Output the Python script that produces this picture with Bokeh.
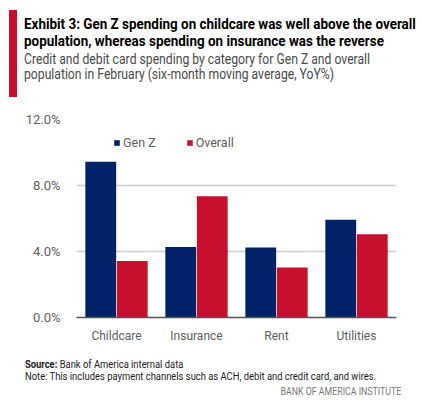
from bokeh.plotting import figure
from bokeh.models import ColumnDataSource, FactorRange, Legend, LegendItem, Range1d, Div
from bokeh.layouts import column
from bokeh.transform import dodge
from bokeh.embed import file_html
from bokeh.resources import INLINE

categories = ["Childcare", "Insurance", "Rent", "Utilities"]
gen_z = [9.44, 4.28, 4.24, 5.93]
overall = [3.43, 7.35, 3.03, 5.05]
y_ticks = [0, 4, 8, 12]
y_tick_labels = {0: "0.0%", 4: "4.0%", 8: "8.0%", 12: "12.0%"}

title_lines = ["Exhibit 3: Gen Z spending on childcare was well above the overall",
               "population, whereas spending on insurance was the reverse"]
subtitle_lines = ["Credit and debit card spending by category for Gen Z and overall",
                  "population in February (six-month moving average, YoY%)"]
source_text = "Bank of America internal data"
note_text = "Note: This includes payment channels such as ACH, debit and credit card, and wires."
brand_text = "BANK OF AMERICA INSTITUTE"

NAVY = "#012169"
RED = "#C8102E"
GREY = "#5f5f5f"
FONT = "Roboto"

W = 414
HEADER_H = 104
FIG_H = 246
FOOTER_H = 50


def line(text, left, baseline, size, color, weight="normal", scale=0.8, right=None):
    top = baseline - 0.84 * size
    if right is None:
        pos = f"left:{left}px;"
        origin = "left"
    else:
        pos = f"right:{W - right}px;"
        origin = "right"
    return (f'<div style="position:absolute;{pos}top:{top:.1f}px;font-family:Roboto,sans-serif;'
            f'font-size:{size}px;line-height:1;font-weight:{weight};color:{color};'
            f'white-space:nowrap;transform:scaleX({scale});transform-origin:{origin};">{text}</div>')


header_html = (f'<div style="position:relative;width:{W}px;height:{HEADER_H}px;">'
               f'<div style="position:absolute;left:9px;top:10px;width:8px;height:87px;background:{RED};"></div>'
               + line(title_lines[0], 24, 29, 14, "#000000", "bold", 0.96)
               + line(title_lines[1], 24, 46, 14, "#000000", "bold", 0.96)
               + line(subtitle_lines[0], 24, 63.5, 14, "#4a4a4a", "normal", 0.87)
               + line(subtitle_lines[1], 24, 78.5, 14, "#4a4a4a", "normal", 0.87)
               + '</div>')
header = Div(text=header_html, width=W, height=HEADER_H, margin=0)

footer_html = (f'<div style="position:relative;width:{W}px;height:{FOOTER_H}px;">'
               + line(f'<b>Source:</b> {source_text}', 25, 18, 10, "#222222", "normal", 0.94)
               + line(note_text, 25, 30.5, 10, "#222222", "normal", 0.94)
               + line(brand_text, 0, 45.5, 10, "#777777", "normal", 0.88, right=401)
               + '</div>')
footer = Div(text=footer_html, width=W, height=FOOTER_H, margin=0)

src = ColumnDataSource(dict(cat=categories, genz=gen_z, overall=overall))

p = figure(width=W, height=FIG_H, x_range=FactorRange(*categories), y_range=Range1d(0, 12),
           output_backend="svg", toolbar_location=None, margin=0,
           min_border_left=76, min_border_right=18, min_border_top=15, min_border_bottom=33)
p.outline_line_color = None
p.background_fill_color = "white"

r1 = p.vbar(x=dodge("cat", -0.197, range=p.x_range), top="genz", width=0.385,
            source=src, color=NAVY, line_color=None)
r2 = p.vbar(x=dodge("cat", 0.197, range=p.x_range), top="overall", width=0.385,
            source=src, color=RED, line_color=None)

p.yaxis.ticker = y_ticks
p.yaxis.major_label_overrides = y_tick_labels
p.yaxis.axis_line_color = None
p.yaxis.major_tick_line_color = None
p.yaxis.minor_tick_line_color = None
p.yaxis.major_label_standoff = 10
p.yaxis.major_label_text_font = FONT
p.yaxis.major_label_text_font_size = "13px"
p.yaxis.major_label_text_color = GREY

p.xaxis.axis_line_color = "#555555"
p.xaxis.axis_line_width = 1.5
p.xaxis.major_tick_line_color = None
p.xaxis.minor_tick_line_color = None
p.xaxis.major_label_standoff = 5
p.xaxis.major_label_text_font = FONT
p.xaxis.major_label_text_font_size = "12px"
p.xaxis.major_label_text_color = GREY

p.xgrid.grid_line_color = None
p.ygrid.grid_line_color = "#cfcfcf"
p.ygrid.grid_line_width = 1.5

legend = Legend(items=[LegendItem(label="Gen Z", renderers=[r1]),
                       LegendItem(label="Overall", renderers=[r2])],
                orientation="horizontal", location=(37, 167),
                glyph_width=7, glyph_height=7, label_height=14, label_standoff=3,
                spacing=30, padding=0, margin=0, border_line_color=None,
                background_fill_alpha=0,
                label_text_font=FONT, label_text_font_size="12.5px",
                label_text_color=GREY)
p.add_layout(legend)

layout = column(header, p, footer, spacing=0, margin=0)

open("out.html", "w").write(file_html(layout, INLINE))
